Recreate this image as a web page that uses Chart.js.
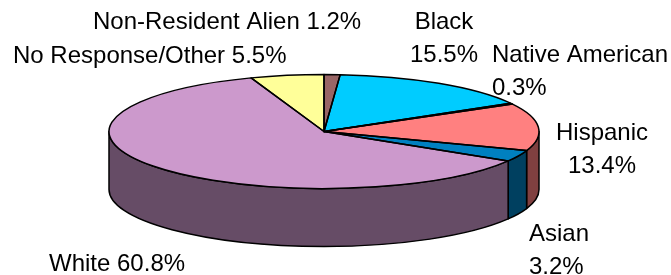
<!DOCTYPE html>
<html>
<head>
<meta charset="utf-8">
<script src="https://cdn.jsdelivr.net/npm/chart.js"></script>
<style>
  html, body { margin: 0; padding: 0; background: #fff; }
  canvas { display: block; }
</style>
</head>
<body>
<canvas id="pie" width="671" height="275"></canvas>
<script>
const categories = ['Non-Resident Alien', 'Black', 'Native American', 'Hispanic', 'Asian', 'White', 'No Response/Other'];
const percents = [1.2, 15.5, 0.3, 13.4, 3.2, 60.8, 5.5];

const topColors = ['#996666', '#00CCFF', '#660066', '#FF8080', '#0080C0', '#CC99CC', '#FFFF99'];
const sideColors = ['#4D3333', '#006680', '#330033', '#804040', '#004060', '#664C66', '#80804C'];

// where the flattened pie sits on the page
const tilt = { x: 324, y: 131.5, rx: 215, ry: 57, depth: 58 };

// label placement: two-line labels put the value under the name
const labelLayout = [
  { x: 93, y: 29, align: 'left', split: false },
  { x: 444, y: 29, align: 'center', split: true },
  { x: 492, y: 62, align: 'left', split: true },
  { x: 602, y: 140, align: 'center', split: true },
  { x: 529, y: 241, align: 'left', split: true },
  { x: 49, y: 271, align: 'left', split: false },
  { x: 13, y: 63, align: 'left', split: false }
];

function ellipsePath(ctx, arc) {
  ctx.beginPath();
  ctx.moveTo(tilt.x, tilt.y);
  ctx.ellipse(tilt.x, tilt.y, tilt.rx, tilt.ry, 0, arc.startAngle, arc.endAngle);
  ctx.closePath();
}

const pie3d = {
  id: 'pie3d',
  beforeDatasetsDraw(chart) {
    const ctx = chart.ctx;
    const arcs = chart.getDatasetMeta(0).data;

    // side walls, only the front half shows
    ctx.lineWidth = 1.5;
    ctx.strokeStyle = '#000';
    ctx.lineJoin = 'round';
    arcs.forEach((arc, i) => {
      const s = Math.max(arc.startAngle, 0);
      const e = Math.min(arc.endAngle, Math.PI);
      if (e <= s) return;
      ctx.beginPath();
      ctx.ellipse(tilt.x, tilt.y, tilt.rx, tilt.ry, 0, s, e);
      ctx.ellipse(tilt.x, tilt.y + tilt.depth, tilt.rx, tilt.ry, 0, e, s, true);
      ctx.closePath();
      ctx.fillStyle = sideColors[i];
      ctx.fill();
      ctx.stroke();
    });

    // squash the round pie into the tilted top face
    const a0 = arcs[0];
    const r = a0.outerRadius;
    ctx.save();
    ctx.translate(tilt.x, tilt.y);
    ctx.scale(tilt.rx / r, tilt.ry / r);
    ctx.translate(-a0.x, -a0.y);
  },
  afterDatasetsDraw(chart) {
    const ctx = chart.ctx;
    ctx.restore();
    const arcs = chart.getDatasetMeta(0).data;
    ctx.save();
    ctx.lineWidth = 1.5;
    ctx.strokeStyle = '#000';
    ctx.lineJoin = 'round';
    arcs.forEach(arc => {
      ellipsePath(ctx, arc);
      ctx.stroke();
    });
    ctx.restore();
  },
  afterDraw(chart) {
    const ctx = chart.ctx;
    ctx.save();
    ctx.font = '24px "Liberation Sans", Arial, sans-serif';
    ctx.fillStyle = '#000';
    ctx.textBaseline = 'alphabetic';
    categories.forEach((name, i) => {
      const pos = labelLayout[i];
      const value = percents[i].toFixed(1) + '%';
      ctx.textAlign = pos.align;
      if (pos.split) {
        ctx.fillText(name, pos.x, pos.y);
        ctx.fillText(value, pos.x, pos.y + 33);
      } else {
        ctx.fillText(name + ' ' + value, pos.x, pos.y);
      }
    });
    ctx.restore();
  }
};

new Chart(document.getElementById('pie').getContext('2d'), {
  type: 'pie',
  data: {
    labels: categories,
    datasets: [{
      data: percents,
      backgroundColor: topColors,
      borderWidth: 0,
      clip: false
    }]
  },
  options: {
    responsive: false,
    animation: false,
    events: [],
    plugins: {
      legend: { display: false },
      tooltip: { enabled: false }
    }
  },
  plugins: [pie3d]
});
</script>
</body>
</html>
